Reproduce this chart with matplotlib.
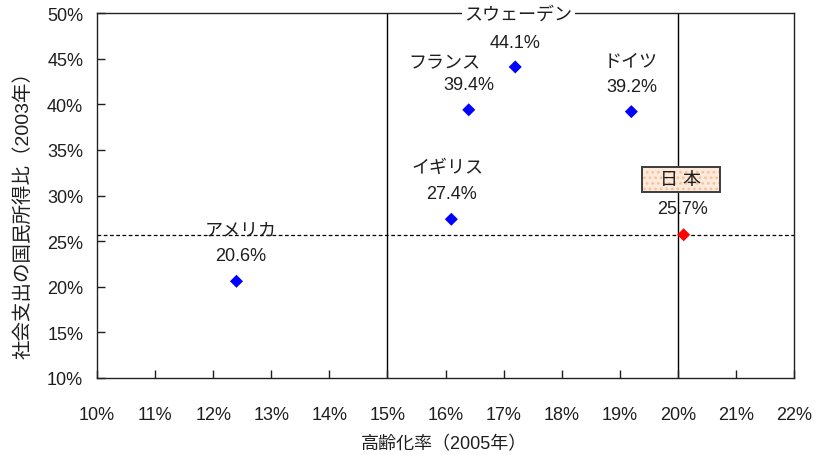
import matplotlib
matplotlib.use("Agg")
import matplotlib.pyplot as plt
from matplotlib.patches import Rectangle
from matplotlib.ticker import FuncFormatter, MultipleLocator
from matplotlib.transforms import Affine2D, ScaledTranslation

plt.rcParams['font.family'] = ['Liberation Sans', 'Noto Sans CJK JP', 'DejaVu Sans']
plt.rcParams['hatch.linewidth'] = 1.2

countries = ["アメリカ", "イギリス", "フランス", "スウェーデン", "ドイツ", "日 本"]
aging_rate = [12.4, 16.1, 16.4, 17.2, 19.2, 20.1]        # 高齢化率 (2005), %
social_spending = [20.6, 27.4, 39.4, 44.1, 39.2, 25.7]   # 社会支出の国民所得比 (2003), %
marker_colors = ["#0000ff", "#0000ff", "#0000ff", "#0000ff", "#0000ff", "#ff0000"]

# label offsets (pixels) for name and value text, relative to each point
name_offsets = [(4, 51), (-4, 52), (-24, 47), (3, 53), (-1, 50), (-3, 55)]
value_offsets = [(4, 26), (0, 26), (0, 25), (0, 24), (0, 25), (-1, 26)]

fig = plt.figure(figsize=(8.16, 4.56), dpi=100)
ax = fig.add_axes([0.119, 0.169, 0.854, 0.800])

ax.set_xlim(10, 22)
ax.set_ylim(10, 50)

# reference lines: 15% and 20% aging rate, Japan's spending level
ax.axvline(15, color="black", lw=1.0, zorder=1)
ax.axvline(20, color="black", lw=1.0, zorder=1)
ax.axhline(social_spending[-1], color="black", lw=0.9, ls=(0, (3, 2)), zorder=1)

ax.scatter(aging_rate, social_spending, marker="D", s=44, c=marker_colors,
           edgecolors="none", zorder=3)

text_color = "#1e1e1e"
label_size = 13
for name, x, y, no, vo in zip(countries, aging_rate, social_spending,
                              name_offsets, value_offsets):
    ax.annotate(f"{y:.1f}%", (x, y), xytext=vo, textcoords="offset pixels",
                ha="center", va="center", fontsize=label_size, color=text_color, zorder=4)
    kw = {}
    if name == "スウェーデン":
        kw["bbox"] = dict(boxstyle="square,pad=0.15", fc="white", ec="none")
    elif name == "日 本":
        # highlighted label box: dotted peach fill with a dark border
        w, h = 78, 25
        place = Affine2D().translate(no[0] - w / 2, no[1] - h / 2) + \
            ScaledTranslation(x, y, ax.transData)
        ax.add_patch(Rectangle((0, 0), w, h, transform=place, fc="#fdeadb",
                               ec="#f5c3a0", lw=0, hatch="...", zorder=4,
                               clip_on=False))
        ax.add_patch(Rectangle((0, 0), w, h, transform=place, fc="none",
                               ec="#3c3c3c", lw=1.4, zorder=4.5, clip_on=False))
    t = ax.annotate(name, (x, y), xytext=no, textcoords="offset pixels",
                    ha="center", va="center", fontsize=label_size, color=text_color,
                    zorder=5, annotation_clip=False, **kw)
    t.set_clip_on(False)

ax.xaxis.set_major_locator(MultipleLocator(1))
ax.yaxis.set_major_locator(MultipleLocator(5))
ax.xaxis.set_major_formatter(FuncFormatter(lambda v, p: f"{v:.0f}%"))
ax.yaxis.set_major_formatter(FuncFormatter(lambda v, p: f"{v:.0f}%"))
ax.tick_params(direction="in", length=6, width=1, labelsize=13, colors=text_color)
ax.tick_params(axis="x", pad=20)
ax.tick_params(axis="y", pad=10)
for s in ax.spines.values():
    s.set_linewidth(1.0)
    s.set_color("#222222")

ax.set_xlabel("高齢化率（2005年）", fontsize=13, color=text_color)
ax.xaxis.set_label_coords(0.497, -0.18)
ax.xaxis.label.set_va("center")
ax.set_ylabel("社会支出の国民所得比（2003年）", fontsize=14, color=text_color)
ax.yaxis.set_label_coords(-0.106, 0.463)
ax.yaxis.label.set_va("center")

fig.savefig("out.png", dpi=100)
